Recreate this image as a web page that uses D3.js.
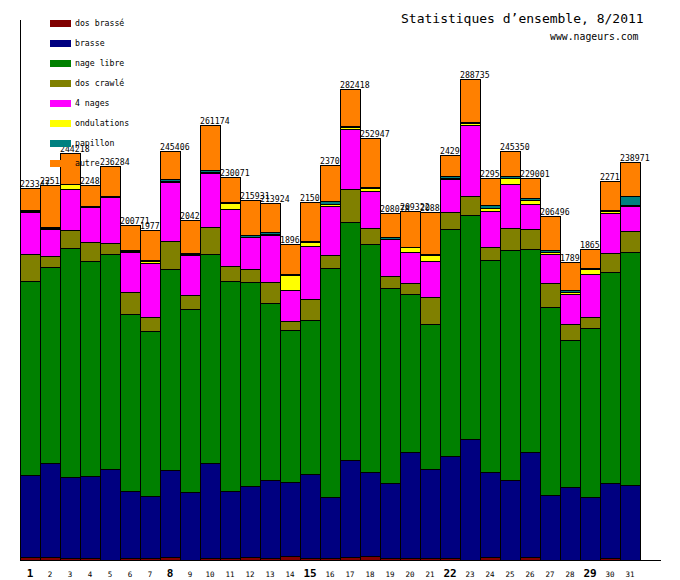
<!DOCTYPE html>
<html lang="fr">
<head>
    <meta charset="UTF-8">
    <title>Statistiques d'ensemble, 8/2011</title>
    <script src="https://d3js.org/d3.v7.min.js"></script>
    <style>
        body{
            margin: 0;
            background: white;
        }
        text{
            font-family: "DejaVu Sans Mono", monospace;
            fill: black;
        }
        rect{
            shape-rendering: crispEdges;
        }
    </style>
</head>
<body>
<script>

    const width = 680
    const height = 580

    // days of the month
    const days = d3.range(1, 32)
    const bigDays = [1, 8, 15, 22, 29]

    const seriesNames = ["dos brassé", "brasse", "nage libre", "dos crawlé", "4 nages", "ondulations", "papillon", "autre"]
    const seriesColors = ["#800000", "#000080", "#008000", "#808000", "#ff00ff", "#ffff00", "#008080", "#ff8000"]

    // values, one per day
    const dosBrasse   = [2000,1600,1000,1000,100,1000,1000,1800,200,1000,1400,1600,1200,2400,1000,1000,1600,2400,1000,1400,1000,1000,200,1600,200,1800,100,100,100,1000,100]
    const brasse      = [48800,56600,48600,49200,54400,40400,37400,52000,40800,57200,39800,42600,46800,44400,50600,36800,58400,50400,45200,63400,53400,61200,72400,51000,48000,62800,38800,43600,37600,45000,44800]
    const nageLibre   = [116400,117400,137400,129000,129000,106000,98800,120600,109600,125200,126400,122400,106200,91000,92200,137200,142600,136600,116800,94800,87000,136200,134400,127200,138000,121800,112800,88200,101400,126600,139800]
    const dosCrawle   = [16200,6600,10800,11400,6600,13200,8400,16800,8400,16200,8600,7800,12400,5600,12600,7800,19800,9600,7200,6600,16200,10200,11400,7800,13200,12000,14400,9800,6600,11400,12800]
    const quatreNages = [25200,16600,25000,21000,27600,24200,32800,35400,24000,32800,34200,19200,28400,18400,31800,29800,36400,22200,22200,18800,22000,20200,42400,21600,26400,15400,17400,17800,26200,24000,14800]
    const ondulations = [600,300,2700,100,200,900,900,900,500,400,3600,500,800,9000,2700,800,900,1800,400,2900,3400,700,1200,2000,3600,2200,1600,1600,2600,1300,1000]
    const papillon    = [800,500,200,900,500,200,500,900,700,1200,1000,900,800,1000,600,2000,900,900,900,200,700,800,600,1800,1200,1400,1200,800,600,600,5400]
    const autre       = [13347,25536,18518,12220,17884,14871,17910,17006,20040,27174,15071,20931,17324,17840,23520,21640,21818,29047,14378,21222,25190,12600,26135,16500,14750,11601,20196,17040,11440,17230,20271]

    const allSeries = [dosBrasse, brasse, nageLibre, dosCrawle, quatreNages, ondulations, papillon, autre]

    // table for d3.stack
    const table = days.map((d, i) => {
        let row = {day: d}
        seriesNames.forEach((s, j) => row[s] = allSeries[j][i])
        return row
    })

    let svg = d3.select("body").append("svg")
                .attr("width", width)
                .attr("height", height)

    const x = d3.scaleBand().domain(days).range([20, 640]).padding(0)
    const y = d3.scaleLinear().domain([0, 300000]).range([560, 60])

    const stacked = d3.stack().keys(seriesNames)(table)

    // title
    svg.append("text")
        .attr("x", 401).attr("y", 23)
        .style("font-size", "13px")
        .text("Statistiques d’ensemble, 8/2011")
    svg.append("text")
        .attr("x", 550).attr("y", 40)
        .style("font-size", "9.8px")
        .text("www.nageurs.com")

    // axes lines
    svg.append("line")
        .attr("x1", 20.5).attr("x2", 20.5)
        .attr("y1", 20).attr("y2", 560)
        .attr("stroke", "black")
    svg.append("line")
        .attr("x1", 20).attr("x2", 661)
        .attr("y1", 560.5).attr("y2", 560.5)
        .attr("stroke", "black")

    // bars, one day at a time so the next bar covers the previous label
    table.forEach((row, i) => {
        let g = svg.append("g").attr("class", "day")
        stacked.forEach((layer, j) => {
            let seg = layer[i]
            g.append("rect")
                .attr("x", x(row.day) + 0.5)
                .attr("y", y(seg[1]) + 0.5)
                .attr("width", x.bandwidth())
                .attr("height", Math.max(0, y(seg[0]) - y(seg[1])))
                .attr("fill", seriesColors[j])
                .attr("stroke", "black")
                .attr("stroke-width", 1)
        })
        let total = d3.sum(seriesNames, s => row[s])
        g.append("text")
            .attr("x", x(row.day))
            .attr("y", y(total) - 1)
            .style("font-size", "8.2px")
            .text(total)
    })

    // day labels
    svg.selectAll(".daylabel")
        .data(days)
        .enter()
        .append("text")
        .attr("class", "daylabel")
        .attr("x", d => x(d) + x.bandwidth() / 2)
        .attr("y", 577)
        .attr("text-anchor", "middle")
        .style("font-size", d => bigDays.includes(d) ? "11px" : "7.5px")
        .style("font-weight", d => bigDays.includes(d) ? "bold" : "normal")
        .text(d => d)

    // legend drawn on top
    let legend = svg.selectAll(".legend")
                    .data(seriesNames)
                    .enter()
                    .append("g")
                    .attr("class", "legend")
                    .attr("transform", (d, i) => `translate(50,${20 + i * 20})`)

    legend.append("rect")
        .attr("width", 21)
        .attr("height", 7)
        .attr("fill", (d, i) => seriesColors[i])
    legend.append("text")
        .attr("x", 25)
        .attr("y", 6)
        .style("font-size", "8.2px")
        .text(d => d)

</script>
</body>
</html>
